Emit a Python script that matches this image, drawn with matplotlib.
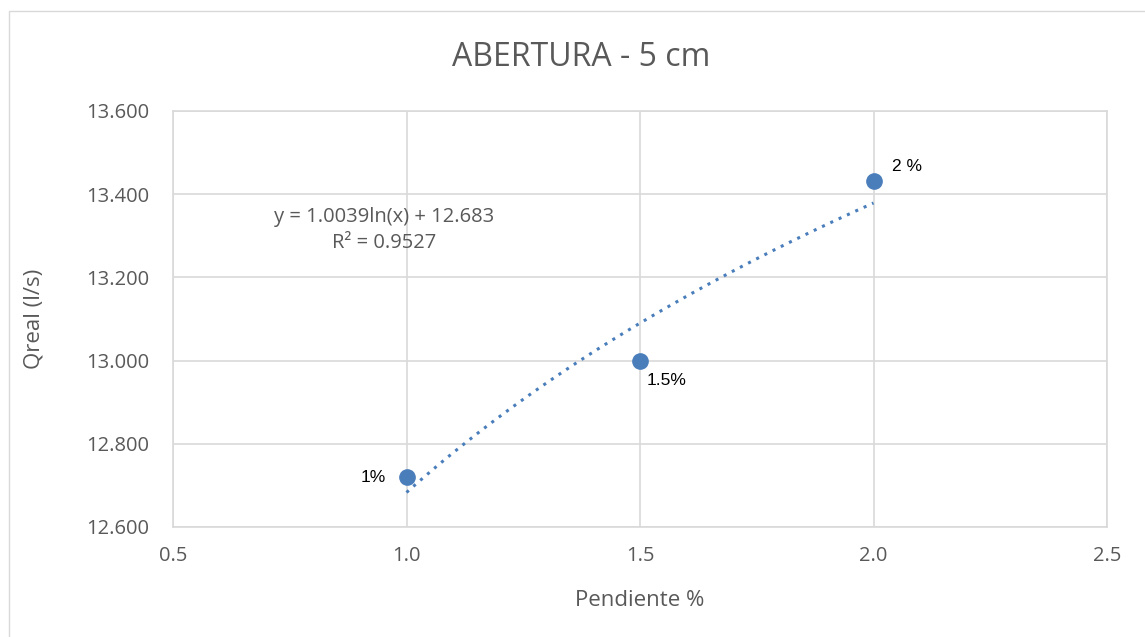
import numpy as np
import matplotlib
matplotlib.use("Agg")
import matplotlib.pyplot as plt
from matplotlib.patches import Rectangle

# Data
pendiente = [1.0, 1.5, 2.0]
qreal = [12.72, 13.00, 13.432]
labels = ["1%", "1.5%", "2 %"]
trend_a = 1.0039
trend_b = 12.683
eq_text = "y = 1.0039ln(x) + 12.683\nR² = 0.9527"
xticks = [0.5, 1.0, 1.5, 2.0, 2.5]
yticks = [12.6, 12.8, 13.0, 13.2, 13.4, 13.6]

W, H = 1145, 637
fig = plt.figure(figsize=(W / 100, H / 100), dpi=100)
fig.patches.append(Rectangle((9 / W, -0.01), 1.02, 1 - 11 / H + 0.01, transform=fig.transFigure,
                             fill=False, edgecolor="#d9d9d9", linewidth=1.0))

ax = fig.add_axes([173 / W, 1 - 527 / H, (1107 - 173) / W, (527 - 111) / H])
font = "Open Sans"
gray = "#595959"
blue = "#4a7ebb"

ax.set_xlim(0.5, 2.5)
ax.set_ylim(12.6, 13.6)
ax.set_xticks(xticks)
ax.set_yticks(yticks)
ax.set_xticklabels([f"{v:.1f}" for v in xticks], fontfamily=font, fontsize=14.5, color=gray)
ax.set_yticklabels([f"{v:.3f}" for v in yticks], fontfamily=font, fontsize=14.5, color=gray)
ax.tick_params(axis="y", length=0, pad=17)
ax.tick_params(axis="x", length=0, pad=14)
ax.grid(True, color="#d9d9d9", linewidth=1.2)
ax.set_axisbelow(True)
for s in ax.spines.values():
    s.set_color("#d9d9d9")
    s.set_linewidth(1.2)

xt = np.linspace(min(pendiente), max(pendiente), 100)
ax.plot(xt, trend_a * np.log(xt) + trend_b, linestyle=(0, (1, 2)), color=blue, linewidth=2.2, zorder=2)
ax.plot(pendiente, qreal, "o", color=blue, markersize=11, zorder=3)

offsets = [(-15, 0, "right", "center"), (5, -14, "left", "center"), (13, 10, "left", "center")]
for x, y, lab, (dx, dy, ha, va) in zip(pendiente, qreal, labels, offsets):
    ax.annotate(lab, (x, y), xytext=(dx, dy), textcoords="offset points", ha=ha, va=va,
                fontfamily="Liberation Sans", fontsize=12.5, color="black")

ax.text(384, H - 230, eq_text, transform=None, ha="center", va="center",
        fontfamily=font, fontsize=14.5, color=gray, linespacing=1.45)

ax.set_xlabel("Pendiente %", fontfamily=font, fontsize=16, color=gray, va="center")
ax.xaxis.set_label_coords(0.5, -(600 - 527) / 416)
ax.set_ylabel("Qreal (l/s)", fontfamily=font, fontsize=16, color=gray, va="center")
ax.yaxis.set_label_coords(-(173 - 34) / 934, 0.5)
fig.text(581 / W, 1 - 58 / H, "ABERTURA - 5 cm", ha="center", va="center",
         fontfamily=font, fontsize=23, color=gray)

fig.savefig("out.png", dpi=100)
